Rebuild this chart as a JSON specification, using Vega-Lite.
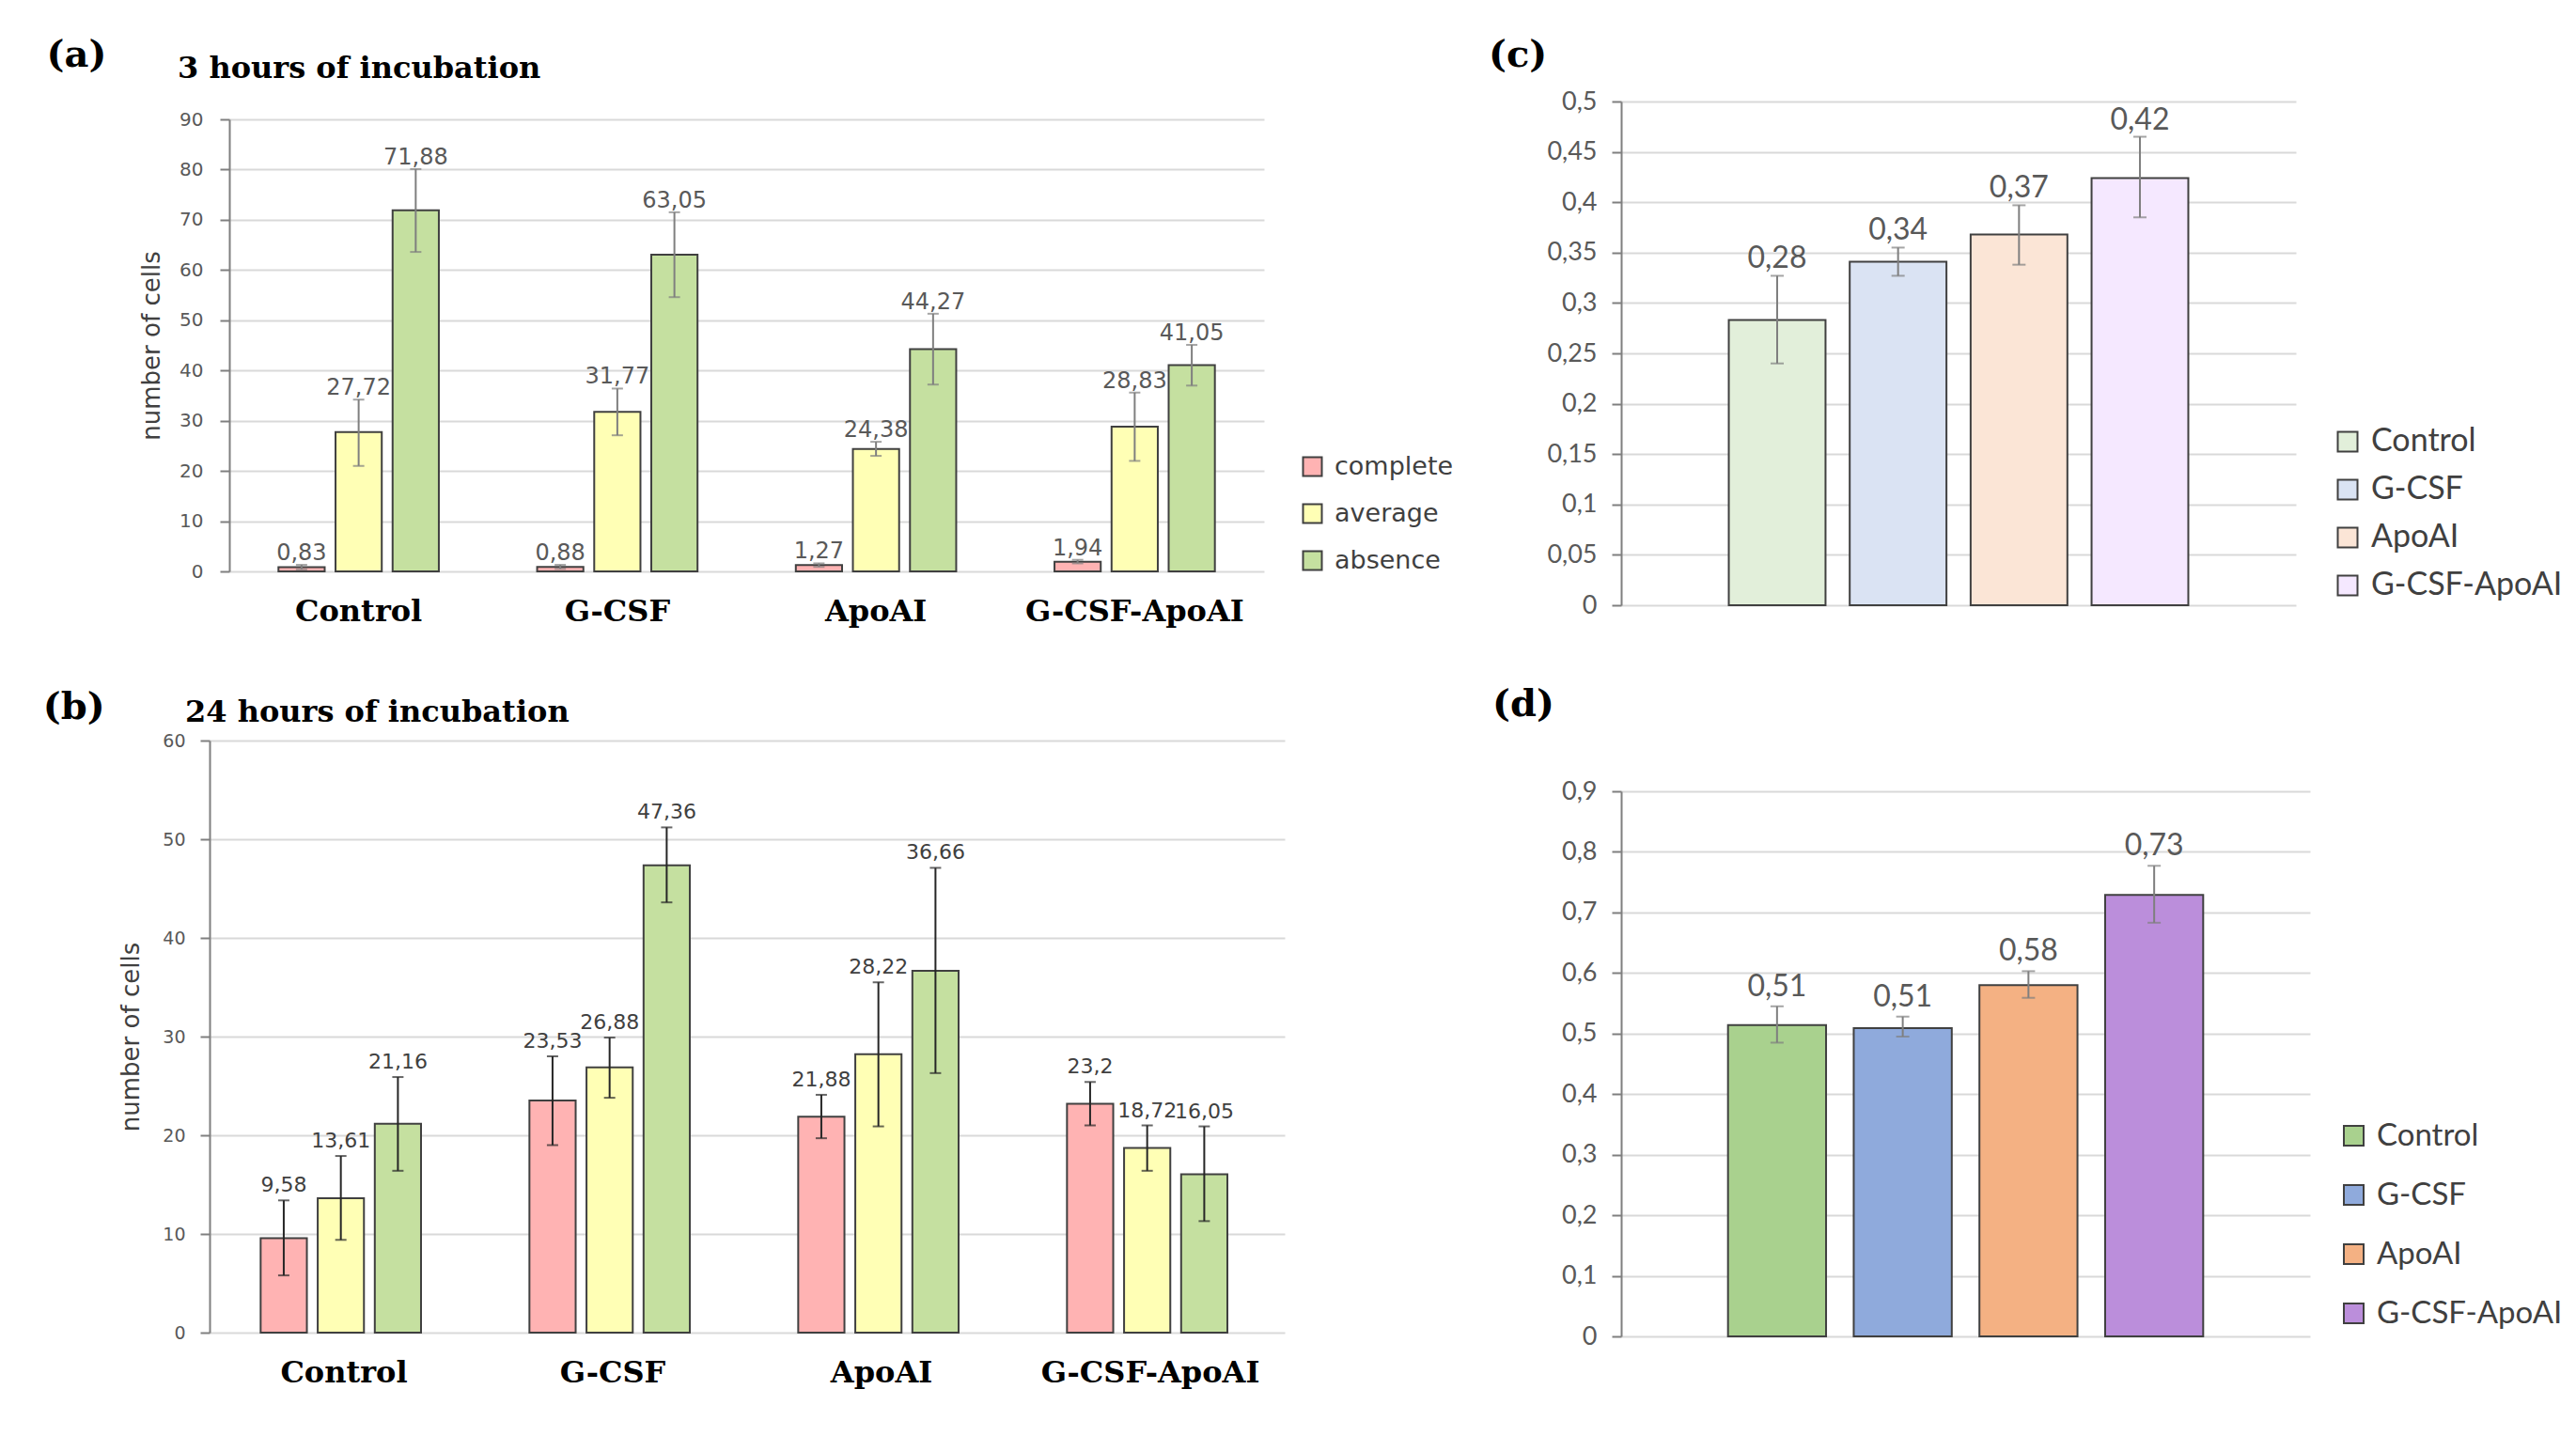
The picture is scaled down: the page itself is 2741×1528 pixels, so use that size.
{
  "$schema": "https://vega.github.io/schema/vega-lite/v6.json",
  "background": "white",
  "padding": {"left": 45, "top": 39, "right": 5, "bottom": 5},
  "autosize": {"type": "pad"},
  "config": {
    "locale": {"number": {"decimal": ",", "thousands": "\u00a0", "grouping": [3], "currency": ["", ""]}},
    "view": {"stroke": null},
    "axis": {"gridColor": "#D9D9D9", "gridWidth": 2, "domainColor": "#7F7F7F", "domainWidth": 2, "tickColor": "#7F7F7F", "tickWidth": 2, "tickSize": 10, "labelColor": "#595959"}
  },
  "datasets": {
    "a": [
      {"g": "Control", "t": "complete", "v": 0.83, "lo": 0.4, "hi": 1.3},
      {"g": "Control", "t": "average", "v": 27.72, "lo": 21.0, "hi": 34.2},
      {"g": "Control", "t": "absence", "v": 71.88, "lo": 63.6, "hi": 80.1},
      {"g": "G-CSF", "t": "complete", "v": 0.88, "lo": 0.5, "hi": 1.3},
      {"g": "G-CSF", "t": "average", "v": 31.77, "lo": 27.1, "hi": 36.4},
      {"g": "G-CSF", "t": "absence", "v": 63.05, "lo": 54.6, "hi": 71.5},
      {"g": "ApoAI", "t": "complete", "v": 1.27, "lo": 0.9, "hi": 1.6},
      {"g": "ApoAI", "t": "average", "v": 24.38, "lo": 23.0, "hi": 25.8},
      {"g": "ApoAI", "t": "absence", "v": 44.27, "lo": 37.2, "hi": 51.3},
      {"g": "G-CSF-ApoAI", "t": "complete", "v": 1.94, "lo": 1.6, "hi": 2.3},
      {"g": "G-CSF-ApoAI", "t": "average", "v": 28.83, "lo": 22.0, "hi": 35.6},
      {"g": "G-CSF-ApoAI", "t": "absence", "v": 41.05, "lo": 37.0, "hi": 45.1}
    ],
    "b": [
      {"g": "Control", "t": "complete", "v": 9.58, "lo": 5.8, "hi": 13.4},
      {"g": "Control", "t": "average", "v": 13.61, "lo": 9.4, "hi": 17.9},
      {"g": "Control", "t": "absence", "v": 21.16, "lo": 16.4, "hi": 25.9},
      {"g": "G-CSF", "t": "complete", "v": 23.53, "lo": 19.0, "hi": 28.0},
      {"g": "G-CSF", "t": "average", "v": 26.88, "lo": 23.8, "hi": 29.9},
      {"g": "G-CSF", "t": "absence", "v": 47.36, "lo": 43.6, "hi": 51.2},
      {"g": "ApoAI", "t": "complete", "v": 21.88, "lo": 19.7, "hi": 24.1},
      {"g": "ApoAI", "t": "average", "v": 28.22, "lo": 20.9, "hi": 35.5},
      {"g": "ApoAI", "t": "absence", "v": 36.66, "lo": 26.3, "hi": 47.1},
      {"g": "G-CSF-ApoAI", "t": "complete", "v": 23.2, "lo": 21.0, "hi": 25.4},
      {"g": "G-CSF-ApoAI", "t": "average", "v": 18.72, "lo": 16.4, "hi": 21.0},
      {"g": "G-CSF-ApoAI", "t": "absence", "v": 16.05, "lo": 11.3, "hi": 20.9}
    ],
    "c": [
      {"g": "Control", "v": 0.283, "lo": 0.240, "hi": 0.327},
      {"g": "G-CSF", "v": 0.341, "lo": 0.327, "hi": 0.355},
      {"g": "ApoAI", "v": 0.368, "lo": 0.338, "hi": 0.397},
      {"g": "G-CSF-ApoAI", "v": 0.424, "lo": 0.385, "hi": 0.465}
    ],
    "d": [
      {"g": "Control", "v": 0.514, "lo": 0.485, "hi": 0.545},
      {"g": "G-CSF", "v": 0.509, "lo": 0.495, "hi": 0.528},
      {"g": "ApoAI", "v": 0.58, "lo": 0.559, "hi": 0.603},
      {"g": "G-CSF-ApoAI", "v": 0.729, "lo": 0.683, "hi": 0.777}
    ]
  },
  "concat": [
    {
      "concat": [
        {
          "title": {"text": "(a)", "anchor": "start", "frame": "bounds", "dx": -99, "offset": -17, "dy": 37, "baseline": "alphabetic", "font": "DejaVu Serif", "fontSize": 40, "fontWeight": "bold", "color": "#000000"},
          "vconcat": [
            {
              "width": 1101,
              "height": 481,
              "title": {"text": "3 hours of incubation", "anchor": "start", "frame": "group", "dx": -55, "offset": 2, "baseline": "alphabetic", "font": "DejaVu Serif", "fontSize": 32, "fontWeight": "bold", "color": "#000000"},
              "data": {"name": "a"},
              "encoding": {
                "x": {"field": "g", "type": "nominal", "sort": ["Control", "G-CSF", "ApoAI", "G-CSF-ApoAI"], "scale": {"paddingInner": 0.38, "paddingOuter": 0.19},
                  "axis": {"title": null, "labelAngle": 0, "domain": false, "ticks": false, "grid": false, "labelFont": "DejaVu Serif", "labelFontSize": 32, "labelFontWeight": "bold", "labelColor": "#000000", "labelPadding": 27, "labelLimit": 500}},
                "xOffset": {"field": "t", "type": "nominal", "sort": ["complete", "average", "absence"], "scale": {"paddingInner": 0.19, "paddingOuter": 0}}
              },
              "layer": [
                {
                  "mark": {"type": "bar", "stroke": "#404040", "strokeWidth": 2},
                  "encoding": {
                    "y": {"field": "v", "type": "quantitative", "title": "number of cells", "scale": {"domain": [0, 90], "nice": false},
                      "axis": {"titleFont": "DejaVu Sans", "titleFontSize": 26, "titleFontWeight": "normal", "titleColor": "#404040", "titlePadding": 16, "labelFont": "DejaVu Sans", "labelFontSize": 20, "labelPadding": 18, "tickCount": 9, "format": ".2~f"}},
                    "color": {"field": "t", "type": "nominal", "scale": {"domain": ["complete", "average", "absence"], "range": ["#FFB3B3", "#FFFFB5", "#C5E0A0"]},
                      "legend": {"title": null, "orient": "none", "legendX": 1139, "legendY": 356, "symbolType": "square", "symbolSize": 400, "symbolStrokeColor": "#404040", "symbolStrokeWidth": 2, "labelFont": "DejaVu Sans", "labelFontSize": 27, "labelColor": "#404040", "rowPadding": 21, "labelOffset": 10, "padding": 0, "labelLimit": 400}}
                  }
                },
                {
                  "mark": {"type": "rule", "color": "#7F7F7F", "strokeWidth": 2},
                  "encoding": {"y": {"field": "lo", "type": "quantitative", "title": "number of cells", "scale": {"domain": [0, 90], "nice": false}}, "y2": {"field": "hi"}}
                },
                {
                  "mark": {"type": "tick", "color": "#7F7F7F", "thickness": 2, "size": 12},
                  "encoding": {"y": {"field": "lo", "type": "quantitative", "title": "number of cells", "scale": {"domain": [0, 90], "nice": false}}}
                },
                {
                  "mark": {"type": "tick", "color": "#7F7F7F", "thickness": 2, "size": 12},
                  "encoding": {"y": {"field": "hi", "type": "quantitative", "title": "number of cells", "scale": {"domain": [0, 90], "nice": false}}}
                },
                {
                  "mark": {"type": "text", "baseline": "middle", "dy": -12, "font": "DejaVu Sans", "fontSize": 24, "color": "#595959"},
                  "encoding": {"y": {"field": "hi", "type": "quantitative", "title": "number of cells", "scale": {"domain": [0, 90], "nice": false}}, "text": {"field": "v", "type": "quantitative", "format": ".2~f"}}
                }
              ]
            }
          ],
          "resolve": {"scale": {"color": "independent"}, "legend": {"color": "independent"}}
        },
        {
          "title": {"text": "(b)", "anchor": "start", "frame": "bounds", "dx": -81, "offset": -17, "dy": 46, "baseline": "alphabetic", "font": "DejaVu Serif", "fontSize": 40, "fontWeight": "bold", "color": "#000000"},
          "vconcat": [
            {
              "width": 1123,
              "height": 630,
              "title": {"text": "24 hours of incubation", "anchor": "start", "frame": "group", "dx": -47, "offset": 0, "dy": 21, "baseline": "alphabetic", "font": "DejaVu Serif", "fontSize": 32, "fontWeight": "bold", "color": "#000000"},
              "data": {"name": "b"},
              "encoding": {
                "x": {"field": "g", "type": "nominal", "sort": ["Control", "G-CSF", "ApoAI", "G-CSF-ApoAI"], "scale": {"range": [-21, 1123], "paddingInner": 0.38, "paddingOuter": 0.19},
                  "axis": {"title": null, "labelAngle": 0, "domain": false, "ticks": false, "grid": false, "labelFont": "DejaVu Serif", "labelFontSize": 32, "labelFontWeight": "bold", "labelColor": "#000000", "labelPadding": 27, "labelLimit": 500}},
                "xOffset": {"field": "t", "type": "nominal", "sort": ["complete", "average", "absence"], "scale": {"paddingInner": 0.19, "paddingOuter": 0}}
              },
              "layer": [
                {
                  "mark": {"type": "bar", "stroke": "#404040", "strokeWidth": 2},
                  "encoding": {
                    "y": {"field": "v", "type": "quantitative", "title": "number of cells", "scale": {"domain": [0, 60], "nice": false},
                      "axis": {"offset": 21, "titleFont": "DejaVu Sans", "titleFontSize": 26, "titleFontWeight": "normal", "titleColor": "#404040", "titlePadding": 20, "labelFont": "DejaVu Sans", "labelFontSize": 19, "labelPadding": 16, "tickCount": 6, "format": ".2~f"}},
                    "color": {"field": "t", "type": "nominal", "scale": {"domain": ["complete", "average", "absence"], "range": ["#FFB3B3", "#FFFFB5", "#C5E0A0"]}, "legend": null}
                  }
                },
                {
                  "mark": {"type": "rule", "color": "#262626", "strokeWidth": 2},
                  "encoding": {"y": {"field": "lo", "type": "quantitative", "title": "number of cells", "scale": {"domain": [0, 60], "nice": false}}, "y2": {"field": "hi"}}
                },
                {
                  "mark": {"type": "tick", "color": "#262626", "thickness": 2, "size": 12},
                  "encoding": {"y": {"field": "lo", "type": "quantitative", "title": "number of cells", "scale": {"domain": [0, 60], "nice": false}}}
                },
                {
                  "mark": {"type": "tick", "color": "#262626", "thickness": 2, "size": 12},
                  "encoding": {"y": {"field": "hi", "type": "quantitative", "title": "number of cells", "scale": {"domain": [0, 60], "nice": false}}}
                },
                {
                  "mark": {"type": "text", "baseline": "middle", "dy": -16, "font": "DejaVu Sans", "fontSize": 22, "color": "#404040"},
                  "encoding": {"y": {"field": "hi", "type": "quantitative", "title": "number of cells", "scale": {"domain": [0, 60], "nice": false}}, "text": {"field": "v", "type": "quantitative", "format": ".2~f"}}
                }
              ]
            }
          ],
          "resolve": {"scale": {"color": "independent"}, "legend": {"color": "independent"}}
        }
      ],
      "columns": 1,
      "align": "none",
      "spacing": 67,
      "resolve": {"scale": {"color": "independent"}, "legend": {"color": "independent"}}
    },
    {
      "concat": [
        {
          "width": 718,
          "height": 517,
          "title": {"text": "(c)", "anchor": "start", "frame": "group", "dx": -141, "offset": 0, "dy": 17, "baseline": "alphabetic", "font": "DejaVu Serif", "fontSize": 40, "fontWeight": "bold", "color": "#000000"},
          "data": {"name": "c"},
          "encoding": {
            "x": {"field": "g", "type": "nominal", "sort": ["Control", "G-CSF", "ApoAI", "G-CSF-ApoAI"], "scale": {"paddingInner": 0.2, "paddingOuter": 0.89}, "axis": null}
          },
          "layer": [
            {
              "mark": {"type": "bar", "stroke": "#404040", "strokeWidth": 2},
              "encoding": {
                "y": {"field": "v", "type": "quantitative", "title": null, "scale": {"domain": [0, 0.5], "nice": false, "range": [517, -19]},
                  "axis": {"labelFont": "Lato", "labelFontSize": 27, "labelPadding": 16, "tickCount": 10, "format": ".2~f"}},
                "color": {"field": "g", "type": "nominal", "scale": {"domain": ["Control", "G-CSF", "ApoAI", "G-CSF-ApoAI"], "range": ["#E2EFDA", "#DAE3F3", "#FBE5D6", "#F5E8FF"]},
                  "legend": {"title": null, "orient": "none", "legendX": 756, "legendY": 326, "symbolType": "square", "symbolSize": 441, "symbolStrokeColor": "#404040", "symbolStrokeWidth": 2, "labelFont": "Lato", "labelFontSize": 34, "labelColor": "#404040", "rowPadding": 17, "labelOffset": 8, "padding": 0, "labelLimit": 400}}
              }
            },
            {
              "mark": {"type": "rule", "color": "#7F7F7F", "strokeWidth": 2},
              "encoding": {"y": {"field": "lo", "type": "quantitative", "title": null, "scale": {"domain": [0, 0.5], "nice": false, "range": [517, -19]}}, "y2": {"field": "hi"}}
            },
            {
              "mark": {"type": "tick", "color": "#7F7F7F", "thickness": 2, "size": 14},
              "encoding": {"y": {"field": "lo", "type": "quantitative", "title": null, "scale": {"domain": [0, 0.5], "nice": false, "range": [517, -19]}}}
            },
            {
              "mark": {"type": "tick", "color": "#7F7F7F", "thickness": 2, "size": 14},
              "encoding": {"y": {"field": "hi", "type": "quantitative", "title": null, "scale": {"domain": [0, 0.5], "nice": false, "range": [517, -19]}}}
            },
            {
              "mark": {"type": "text", "baseline": "middle", "dy": -18, "font": "Lato", "fontSize": 32, "color": "#595959"},
              "encoding": {"y": {"field": "hi", "type": "quantitative", "title": null, "scale": {"domain": [0, 0.5], "nice": false, "range": [517, -19]}}, "text": {"field": "v", "type": "quantitative", "format": ".2f"}}
            }
          ]
        },
        {
          "width": 733,
          "height": 580,
          "title": {"text": "(d)", "anchor": "start", "frame": "group", "dx": -137, "offset": 26, "baseline": "alphabetic", "font": "DejaVu Serif", "fontSize": 40, "fontWeight": "bold", "color": "#000000"},
          "data": {"name": "d"},
          "encoding": {
            "x": {"field": "g", "type": "nominal", "sort": ["Control", "G-CSF", "ApoAI", "G-CSF-ApoAI"], "scale": {"paddingInner": 0.22, "paddingOuter": 0.85}, "axis": null}
          },
          "layer": [
            {
              "mark": {"type": "bar", "stroke": "#404040", "strokeWidth": 2},
              "encoding": {
                "y": {"field": "v", "type": "quantitative", "title": null, "scale": {"domain": [0, 0.9], "nice": false},
                  "axis": {"labelFont": "Lato", "labelFontSize": 27, "labelPadding": 16, "tickCount": 10, "format": ".2~f"}},
                "color": {"field": "g", "type": "nominal", "scale": {"domain": ["Control", "G-CSF", "ApoAI", "G-CSF-ApoAI"], "range": ["#A9D18E", "#8FAADC", "#F4B183", "#BB8EDB"]},
                  "legend": {"title": null, "orient": "none", "legendX": 763, "legendY": 350, "symbolType": "square", "symbolSize": 441, "symbolStrokeColor": "#404040", "symbolStrokeWidth": 2, "labelFont": "Lato", "labelFontSize": 33, "labelColor": "#404040", "rowPadding": 29, "labelOffset": 8, "padding": 0, "labelLimit": 400}}
              }
            },
            {
              "mark": {"type": "rule", "color": "#7F7F7F", "strokeWidth": 2},
              "encoding": {"y": {"field": "lo", "type": "quantitative", "title": null, "scale": {"domain": [0, 0.9], "nice": false}}, "y2": {"field": "hi"}}
            },
            {
              "mark": {"type": "tick", "color": "#7F7F7F", "thickness": 2, "size": 14},
              "encoding": {"y": {"field": "lo", "type": "quantitative", "title": null, "scale": {"domain": [0, 0.9], "nice": false}}}
            },
            {
              "mark": {"type": "tick", "color": "#7F7F7F", "thickness": 2, "size": 14},
              "encoding": {"y": {"field": "hi", "type": "quantitative", "title": null, "scale": {"domain": [0, 0.9], "nice": false}}}
            },
            {
              "mark": {"type": "text", "baseline": "middle", "dy": -21, "font": "Lato", "fontSize": 32, "color": "#595959"},
              "encoding": {"y": {"field": "hi", "type": "quantitative", "title": null, "scale": {"domain": [0, 0.9], "nice": false}}, "text": {"field": "v", "type": "quantitative", "format": ".2f"}}
            }
          ]
        }
      ],
      "columns": 1,
      "align": "none",
      "spacing": 67,
      "resolve": {"scale": {"color": "independent"}, "legend": {"color": "independent"}}
    }
  ],
  "columns": 2,
  "align": "none",
  "spacing": 37,
  "resolve": {"scale": {"color": "independent"}, "legend": {"color": "independent"}}
}
